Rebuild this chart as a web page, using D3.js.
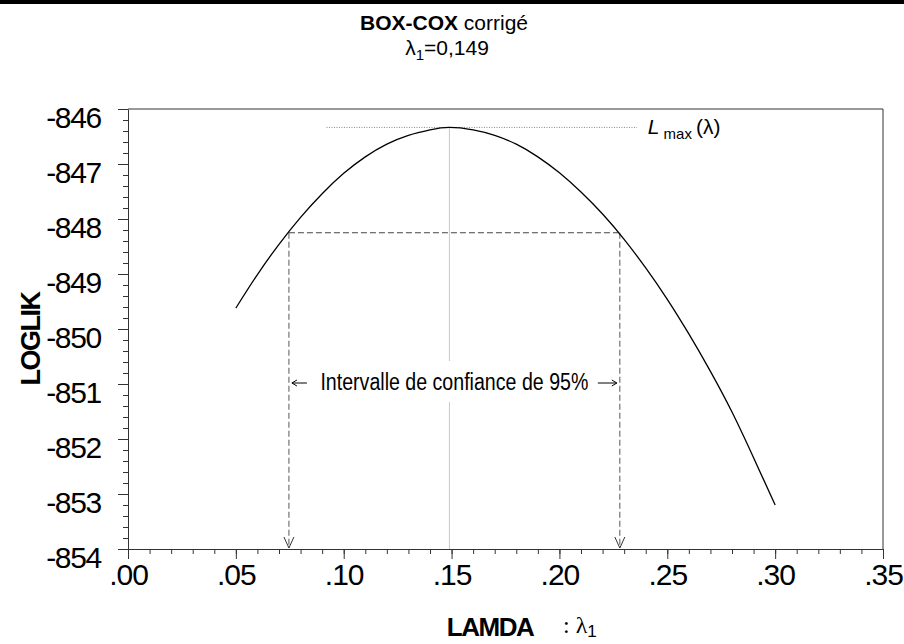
<!DOCTYPE html>
<html>
<head>
<meta charset="utf-8">
<script src="https://cdn.jsdelivr.net/npm/d3@7"></script>
<style>
  body { margin: 0; background: #fff; }
  svg { display: block; font-family: "Liberation Sans", Arial, sans-serif; }
</style>
</head>
<body>
<div id="chart"></div>
<script>
// profile log-likelihood
var lambdaVals = [0.05, 0.06, 0.07, 0.08, 0.09, 0.10, 0.11, 0.12, 0.13, 0.14, 0.149, 0.16, 0.17, 0.18,
                  0.19, 0.20, 0.21, 0.22, 0.23, 0.24, 0.25, 0.26, 0.27, 0.28, 0.29, 0.30];
var loglikVals = [-849.62, -849.01, -848.46, -847.97, -847.54, -847.17, -846.87, -846.64, -846.48, -846.38, -846.335, -846.38, -846.48, -846.64,
                  -846.87, -847.16, -847.51, -847.91, -848.37, -848.89, -849.46, -850.09, -850.77, -851.51, -852.34, -853.20];

var xTicks = [0, 0.05, 0.10, 0.15, 0.20, 0.25, 0.30, 0.35];
var yTicks = [-846, -847, -848, -849, -850, -851, -852, -853, -854];

var lambdaHat = 0.149;
var lMax = -846.335;
var ciLow = 0.0746;
var ciHigh = 0.228;
var ciLevel = -848.25;

var width = 904, height = 644;
var margin = { top: 109, right: 21, bottom: 95, left: 128 };

var svg = d3.select("#chart").append("svg")
  .attr("width", width)
  .attr("height", height);

// black strip along the top
svg.append("rect").attr("x", 0).attr("y", 0).attr("width", width).attr("height", 4).attr("fill", "#000");

var xScale = d3.scaleLinear().domain([0, 0.35]).range([margin.left, width - margin.right]);
var yScale = d3.scaleLinear().domain([-854, -846]).range([height - margin.bottom, margin.top]);

var x0 = xScale(0), x1 = xScale(0.35), y0 = yScale(-854), y1 = yScale(-846);

// frame top + right
svg.append("path")
  .attr("d", "M" + x0 + "," + y1 + "H" + x1 + "V" + y0)
  .attr("fill", "none").attr("stroke", "#333").attr("stroke-width", 1);

// minor ticks
var minorX = d3.range(0, 36).map(function(i) { return i / 100; });
var minorY = d3.range(0, 41).map(function(i) { return -854 + i * 0.2; });

svg.append("g")
  .attr("transform", "translate(0," + y0 + ")")
  .call(d3.axisBottom(xScale).tickValues(minorX).tickSize(5).tickFormat(""))
  .call(function(g) { g.select(".domain").remove(); })
  .selectAll("line").attr("stroke", "#333");

svg.append("g")
  .attr("transform", "translate(" + x0 + ",0)")
  .call(d3.axisLeft(yScale).tickValues(minorY).tickSize(5).tickFormat(""))
  .call(function(g) { g.select(".domain").remove(); })
  .selectAll("line").attr("stroke", "#333");

// major axes
var xAxis = svg.append("g")
  .attr("transform", "translate(0," + y0 + ")")
  .call(d3.axisBottom(xScale).tickValues(xTicks).tickSize(10).tickSizeOuter(0)
    .tickFormat(function(d) { return d3.format(".2f")(d).replace(/^0/, ""); }));
xAxis.select(".domain").attr("stroke", "#333");
xAxis.selectAll("line").attr("stroke", "#333");
xAxis.selectAll("text")
  .attr("y", 36).attr("dy", 0)
  .attr("fill", "#000")
  .style("font-size", "30px").style("letter-spacing", "-1px")
  .style("font-family", "'Liberation Sans', Arial, sans-serif");

var yAxis = svg.append("g")
  .attr("transform", "translate(" + x0 + ",0)")
  .call(d3.axisLeft(yScale).tickValues(yTicks).tickSize(10).tickSizeOuter(0)
    .tickFormat(function(d) { return String(d); }));
yAxis.select(".domain").attr("stroke", "#333");
yAxis.selectAll("line").attr("stroke", "#333");
yAxis.selectAll("text")
  .attr("x", -27).attr("dy", 0).attr("y", 18)
  .attr("fill", "#000")
  .style("font-size", "30px").style("letter-spacing", "-1.3px")
  .style("font-family", "'Liberation Sans', Arial, sans-serif");

// vertical gray line at lambda hat
svg.append("line")
  .attr("x1", xScale(lambdaHat)).attr("x2", xScale(lambdaHat))
  .attr("y1", yScale(lMax)).attr("y2", y0)
  .attr("stroke", "#c8c8c8").attr("stroke-width", 1);

// Lmax dotted guide
svg.append("line")
  .attr("x1", xScale(0.092)).attr("x2", xScale(0.236))
  .attr("y1", yScale(lMax)).attr("y2", yScale(lMax))
  .attr("stroke", "#666").attr("stroke-width", 0.8).attr("stroke-dasharray", "1,1.5");

// confidence interval dashed lines
var dash = "6,3";
svg.append("line")
  .attr("x1", xScale(ciLow)).attr("x2", xScale(ciHigh))
  .attr("y1", yScale(ciLevel)).attr("y2", yScale(ciLevel))
  .attr("stroke", "#444").attr("stroke-width", 1.2).attr("stroke-dasharray", dash);

[ciLow, ciHigh].forEach(function(v) {
  var cx = xScale(v);
  svg.append("line")
    .attr("x1", cx).attr("x2", cx)
    .attr("y1", yScale(ciLevel)).attr("y2", y0 - 1)
    .attr("stroke", "#555").attr("stroke-width", 1).attr("stroke-dasharray", dash);
  svg.append("path")
    .attr("d", "M" + (cx - 5) + "," + (y0 - 12) + "L" + cx + "," + (y0 - 1) + "L" + (cx + 5) + "," + (y0 - 12))
    .attr("fill", "none").attr("stroke", "#333").attr("stroke-width", 1);
});

// curve
var line = d3.line()
  .x(function(d, i) { return xScale(lambdaVals[i]); })
  .y(function(d) { return yScale(d); })
  .curve(d3.curveNatural);

svg.append("path")
  .datum(loglikVals)
  .attr("d", line)
  .attr("fill", "none")
  .attr("stroke", "#000")
  .attr("stroke-width", 1.3);

// interval label
var ty = 383;
var midX = (xScale(ciLow) + xScale(ciHigh)) / 2;
svg.append("rect")
  .attr("x", xScale(ciLow) + 4).attr("y", 361)
  .attr("width", xScale(ciHigh) - xScale(ciLow) - 8).attr("height", 41)
  .attr("fill", "#fff");
svg.append("text")
  .attr("x", midX).attr("y", ty + 7)
  .attr("text-anchor", "middle")
  .attr("textLength", 268).attr("lengthAdjust", "spacingAndGlyphs")
  .style("font-size", "23px")
  .text("Intervalle de confiance de 95%");

function arrow(xa, xb) {
  var dir = xb > xa ? 1 : -1;
  svg.append("line").attr("x1", xa).attr("x2", xb).attr("y1", ty).attr("y2", ty)
    .attr("stroke", "#000").attr("stroke-width", 1);
  svg.append("path")
    .attr("d", "M" + (xb - dir * 5) + "," + (ty - 3) + "L" + xb + "," + ty + "L" + (xb - dir * 5) + "," + (ty + 3))
    .attr("fill", "none").attr("stroke", "#000").attr("stroke-width", 1);
}
arrow(xScale(ciLow) + 18, xScale(ciLow) + 3);
arrow(xScale(ciHigh) - 22, xScale(ciHigh) - 3);

// L max label
var lm = svg.append("text")
  .attr("x", xScale(0.241)).attr("y", yScale(lMax) + 7)
  .style("font-size", "21px");
lm.append("tspan").style("font-style", "italic").text("L");
lm.append("tspan").attr("dx", 4).attr("dy", 5).style("font-size", "15px").text("max");
lm.append("tspan").attr("dx", 4).attr("dy", -5).text("(λ)");

// title
var t1 = svg.append("text").attr("x", 444).attr("y", 30).attr("text-anchor", "middle").style("font-size", "21px");
t1.append("tspan").style("font-weight", "bold").text("BOX-COX");
t1.append("tspan").text(" corrigé");

var t2 = svg.append("text").attr("x", 447).attr("y", 55).attr("text-anchor", "middle").style("font-size", "21px");
t2.append("tspan").text("λ");
t2.append("tspan").attr("dy", 5).style("font-size", "15px").text("1");
t2.append("tspan").attr("dy", -5).text("=0,149");

// axis titles
svg.append("text")
  .attr("transform", "translate(40,339) rotate(-90)")
  .attr("text-anchor", "middle")
  .style("font-size", "27px").style("font-weight", "bold").style("letter-spacing", "-1.5px")
  .text("LOGLIK");

svg.append("text")
  .attr("x", 490).attr("y", 636)
  .attr("text-anchor", "middle")
  .style("font-size", "26px").style("font-weight", "bold").style("letter-spacing", "-1.5px")
  .text("LAMDA");

var xl = svg.append("text")
  .attr("x", 563).attr("y", 633)
  .style("font-family", "'Liberation Serif', 'Times New Roman', serif")
  .style("font-size", "24px");
xl.append("tspan").text(": λ");
xl.append("tspan").attr("dy", 4).style("font-family", "'Liberation Sans', Arial, sans-serif").style("font-size", "17px").text("1");
</script>
</body>
</html>
